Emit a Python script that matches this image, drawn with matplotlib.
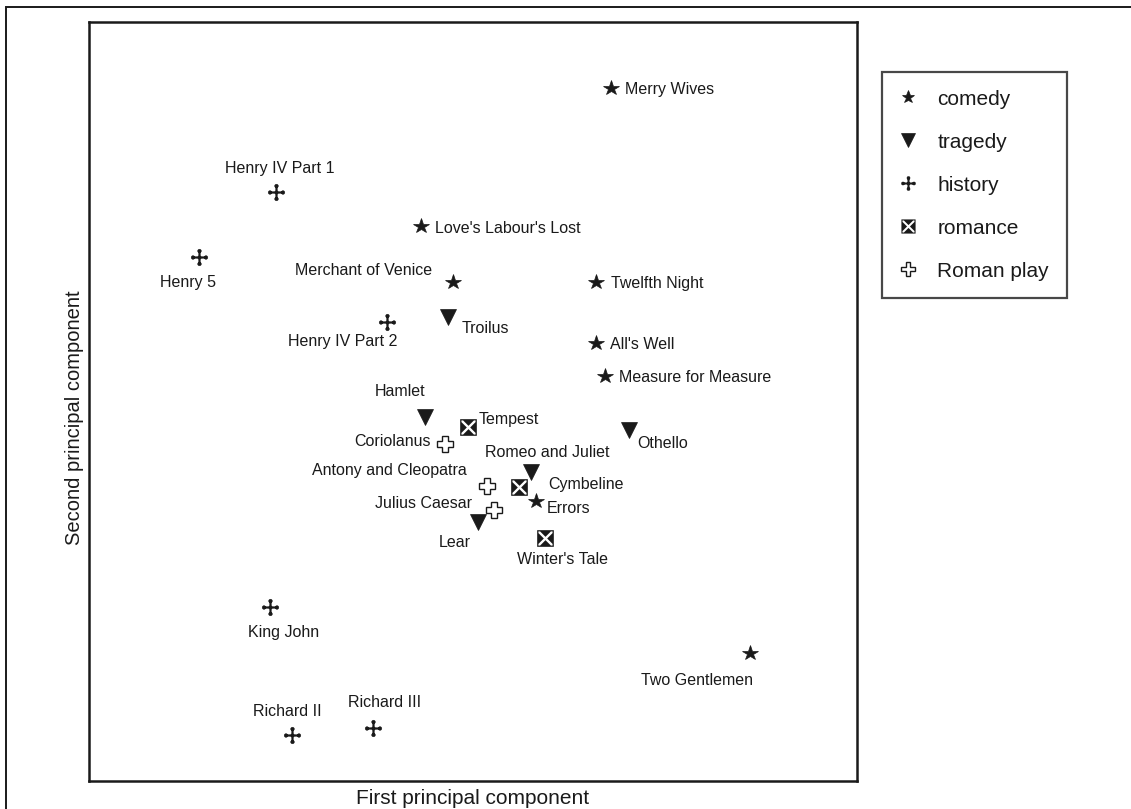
import numpy as np
import matplotlib.pyplot as plt
from matplotlib.path import Path
from matplotlib.lines import Line2D
from matplotlib.patches import Rectangle

plt.rcParams['font.family'] = ['Liberation Sans', 'DejaVu Sans']

# plays, genre and principal component scores (arbitrary units)
plays = ['Merry Wives', 'Henry IV Part 1', "Love's Labour's Lost", 'Henry 5',
         'Merchant of Venice', 'Twelfth Night', 'Troilus', 'Henry IV Part 2',
         "All's Well", 'Measure for Measure', 'Hamlet', 'Tempest', 'Othello',
         'Coriolanus', 'Romeo and Juliet', 'Antony and Cleopatra', 'Cymbeline',
         'Errors', 'Julius Caesar', 'Lear', "Winter's Tale", 'King John',
         'Two Gentlemen', 'Richard II', 'Richard III']
genre = ['comedy', 'history', 'comedy', 'history',
         'comedy', 'comedy', 'tragedy', 'history',
         'comedy', 'comedy', 'tragedy', 'romance', 'tragedy',
         'roman', 'tragedy', 'roman', 'romance',
         'comedy', 'roman', 'tragedy', 'romance', 'history',
         'comedy', 'history', 'history']
pc1 = [68.0, 24.3, 43.2, 14.3, 47.4, 66.0, 46.7, 38.8, 66.0, 67.2, 43.8, 49.3, 70.3,
       46.4, 57.6, 51.8, 56.0, 58.2, 52.7, 50.7, 59.4, 23.6, 86.1, 26.4, 37.0]
pc2 = [91.3, 77.6, 73.1, 69.0, 65.7, 65.7, 61.1, 60.5, 57.7, 53.4, 48.0, 46.6, 46.2,
       44.4, 40.7, 38.9, 38.7, 36.9, 35.7, 34.1, 32.0, 22.9, 16.9, 6.1, 7.0]

genres = ['comedy', 'tragedy', 'history', 'romance', 'roman']
genre_labels = ['comedy', 'tragedy', 'history', 'romance', 'Roman play']

# label placement: offset in pixels from the marker, horizontal alignment
label_pos = {
    'Merry Wives': (14, -1, 'left'),
    'Henry IV Part 1': (4, 24, 'center'),
    "Love's Labour's Lost": (14, -2, 'left'),
    'Henry 5': (-11, -25, 'center'),
    'Merchant of Venice': (-21, 12, 'right'),
    'Twelfth Night': (15, -1, 'left'),
    'Troilus': (14, -11, 'left'),
    'Henry IV Part 2': (-44, -20, 'center'),
    "All's Well": (14, -1, 'left'),
    'Measure for Measure': (14, -2, 'left'),
    'Hamlet': (-25, 25, 'center'),
    'Tempest': (11, 8, 'left'),
    'Othello': (8, -13, 'left'),
    'Coriolanus': (-15, 3, 'right'),
    'Romeo and Juliet': (16, 20, 'center'),
    'Antony and Cleopatra': (-20, 15, 'right'),
    'Cymbeline': (29, 3, 'left'),
    'Errors': (11, -8, 'left'),
    'Julius Caesar': (-22, 7, 'right'),
    'Lear': (-24, -20, 'center'),
    "Winter's Tale": (17, -21, 'center'),
    'King John': (13, -25, 'center'),
    'Two Gentlemen': (-53, -28, 'center'),
    'Richard II': (-4, 23, 'center'),
    'Richard III': (11, 25, 'center'),
}


def square(x0, y0, x1, y1, ccw=True):
    v = [(x0, y0), (x1, y0), (x1, y1), (x0, y1), (x0, y0)]
    if not ccw:
        v = v[::-1]
    return Path(v, closed=True)


# history: small cross with round ends
hist_marker = Path.make_compound_path(
    square(-0.8, -0.1, 0.8, 0.1), square(-0.1, -0.8, 0.1, 0.8),
    Path.circle((0.78, 0), 0.22), Path.circle((-0.78, 0), 0.22),
    Path.circle((0, 0.78), 0.22), Path.circle((0, -0.78), 0.22),
    Path.circle((0, 0), 0.2))

# romance: dark box crossed by a white X
r, c = 0.85, 0.2
a = r - c
tris = []
for k in range(4):
    th = k * np.pi / 2
    rot = np.array([[np.cos(th), -np.sin(th)], [np.sin(th), np.cos(th)]])
    pts = np.array([(0, c), (a, r), (-a, r), (0, c)]) @ rot.T
    tris.append(Path(pts, closed=True))
rom_marker = Path.make_compound_path(
    square(-1, -1, 1, 1), square(-r, -r, r, r, ccw=False), *tris)

ink = '#1a1a1a'
styles = {
    'comedy': dict(marker='*', ms=11.5, mfc=ink, mec=ink, mew=0.5),
    'tragedy': dict(marker='v', ms=12, mfc=ink, mec=ink, mew=0.5),
    'history': dict(marker=hist_marker, ms=12, mfc=ink, mec=ink, mew=0.3),
    'romance': dict(marker=rom_marker, ms=12, mfc=ink, mec='none', mew=0),
    'roman': dict(marker='P', ms=12, mfc='white', mec=ink, mew=1.0),
}

fig = plt.figure(figsize=(11.31, 8.09), dpi=100)
ax = fig.add_axes([89 / 1131, 1 - 781 / 809, 768 / 1131, 759 / 809])

pc1 = np.array(pc1)
pc2 = np.array(pc2)
genre = np.array(genre)
for g in genres:
    m = genre == g
    ax.plot(pc1[m], pc2[m], linestyle='none', **styles[g])

for name, x, y in zip(plays, pc1, pc2):
    dx, dy, ha = label_pos[name]
    ax.annotate(name, (x, y), xytext=(dx, dy), textcoords='offset pixels',
                ha=ha, va='center', fontsize=11.5, color=ink)

ax.set_xlim(0, 100)
ax.set_ylim(0, 100)
ax.set_xticks([])
ax.set_yticks([])
for s in ax.spines.values():
    s.set_linewidth(1.8)
    s.set_color(ink)

fig.text(473 / 1131, 1 - 798 / 809, 'First principal component', ha='center', va='center',
         fontsize=15, color=ink)
fig.text(75 / 1131, 1 - 418 / 809, 'Second principal component', ha='center', va='center',
         rotation=90, fontsize=14.5, color=ink)

handles = [Line2D([], [], linestyle='none', **dict(styles[g], ms=styles[g]['ms'] * 0.85))
           for g in genres]
leg = fig.legend(handles, genre_labels, loc='upper left', bbox_to_anchor=(882 / 1131, 1 - 72 / 809),
                 fontsize=15, frameon=True, fancybox=False, handlelength=0.8,
                 handletextpad=1.0, labelspacing=1.15, borderpad=0.85, borderaxespad=0)
leg.get_frame().set_edgecolor(ink)
leg.get_frame().set_linewidth(1.6)
for t in leg.get_texts():
    t.set_color(ink)

# outer frame (only top and left edges fall inside the image)
fig.patches.append(Rectangle((6 / 1131, -0.5), 2, 1.5 - 7 / 809, transform=fig.transFigure,
                             fill=False, edgecolor=ink, linewidth=1.4))

fig.savefig('out.png', dpi=100)
